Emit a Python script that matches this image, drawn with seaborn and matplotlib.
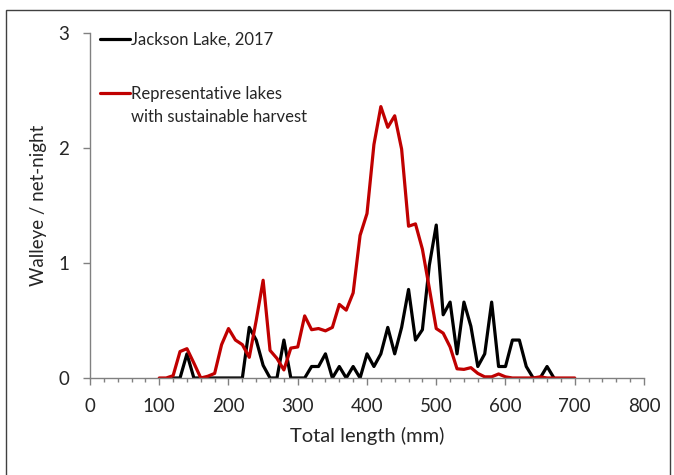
import numpy as np
import pandas as pd
import matplotlib
matplotlib.use("Agg")
import matplotlib.pyplot as plt
import seaborn as sns
from matplotlib.lines import Line2D
from matplotlib.patches import Rectangle
from matplotlib.ticker import MultipleLocator

# Length bins (mm) and catch rates (walleye / net-night)
rep_length = [100, 110, 120, 130, 140, 150, 160, 170, 180, 190,
              200, 210, 220, 230, 240, 250, 260, 270, 280, 290,
              300, 310, 320, 330, 340, 350, 360, 370, 380, 390,
              400, 410, 420, 430, 440, 450, 460, 470, 480, 490,
              500, 510, 520, 530, 540, 550, 560, 570, 580, 590,
              600, 610, 620, 630, 640, 650, 660, 670, 680, 690, 700]
rep_cpue = [0, 0, 0.02, 0.23, 0.255, 0.13, 0.0, 0.015, 0.04, 0.29,
            0.43, 0.33, 0.29, 0.18, 0.50, 0.85, 0.24, 0.17, 0.07, 0.26,
            0.27, 0.54, 0.42, 0.43, 0.41, 0.44, 0.64, 0.59, 0.74, 1.24,
            1.43, 2.03, 2.36, 2.18, 2.28, 1.99, 1.32, 1.34, 1.12, 0.78,
            0.43, 0.39, 0.27, 0.08, 0.075, 0.09, 0.04, 0.01, 0.01, 0.035,
            0.01, 0, 0, 0, 0, 0.01, 0, 0, 0, 0, 0]

jackson_length = [120, 130, 140, 150, 160, 170, 180, 190,
                  200, 210, 220, 230, 240, 250, 260, 270, 280, 290,
                  300, 310, 320, 330, 340, 350, 360, 370, 380, 390,
                  400, 410, 420, 430, 440, 450, 460, 470, 480, 490,
                  500, 510, 520, 530, 540, 550, 560, 570, 580, 590,
                  600, 610, 620, 630, 640, 650, 660, 670]
jackson_cpue = [0, 0, 0.21, 0, 0, 0, 0, 0,
                0, 0, 0, 0.44, 0.33, 0.11, 0, 0, 0.33, 0,
                0, 0, 0.1, 0.1, 0.21, 0, 0.1, 0, 0.1, 0,
                0.21, 0.1, 0.21, 0.44, 0.21, 0.44, 0.77, 0.33, 0.42, 0.98,
                1.33, 0.55, 0.66, 0.21, 0.66, 0.45, 0.1, 0.21, 0.66, 0.1,
                0.1, 0.33, 0.33, 0.1, 0, 0, 0.1, 0]

jackson = pd.DataFrame({"length": jackson_length, "cpue": jackson_cpue})
rep = pd.DataFrame({"length": rep_length, "cpue": rep_cpue})

sns.set_style("ticks")
plt.rcParams["font.family"] = ["Lato", "DejaVu Sans"]
text_col = "#262626"
axis_col = "#808080"

fig = plt.figure(figsize=(6.74, 4.75), dpi=100)
ax = fig.add_axes([90 / 674, 97 / 475, 554 / 674, 345 / 475])

sns.lineplot(data=jackson, x="length", y="cpue", color="black", lw=2.3, ax=ax)
sns.lineplot(data=rep, x="length", y="cpue", color="#C00000", lw=2.3, ax=ax)

ax.set_xlim(0, 800)
ax.set_ylim(0, 3)
ax.xaxis.set_major_locator(MultipleLocator(100))
ax.xaxis.set_minor_locator(MultipleLocator(20))
ax.yaxis.set_major_locator(MultipleLocator(1))
ax.tick_params(axis="x", which="major", length=5, width=1, color=axis_col,
               labelsize=13.5, labelcolor=text_col, pad=9.5)
ax.tick_params(axis="x", which="minor", length=3, width=1, color=axis_col)
ax.tick_params(axis="y", which="major", length=5, width=1, color=axis_col,
               labelsize=13.5, labelcolor=text_col, pad=10)
sns.despine(ax=ax)
for s in ("left", "bottom"):
    ax.spines[s].set_color(axis_col)
    ax.spines[s].set_linewidth(1)

ax.set_xlabel("Total length (mm)", fontsize=14.5, color=text_col, labelpad=8.5)
ax.set_ylabel("Walleye / net-night", fontsize=13.5, color=text_col, labelpad=8)

# legend, Excel style: handle level with first line of each label
leg1 = fig.legend(handles=[Line2D([], [], color="black", lw=2.3)],
                  labels=["Jackson Lake, 2017"], loc="center left",
                  bbox_to_anchor=(100 / 674, 1 - 40 / 475), frameon=False,
                  fontsize=12, handlelength=1.8, handletextpad=0.05,
                  borderpad=0, borderaxespad=0, labelcolor=text_col)
leg2 = fig.legend(handles=[Line2D([], [], color="#C00000", lw=2.3),
                           Line2D([], [], color="none")],
                  labels=["Representative lakes", "with sustainable harvest"],
                  loc="center left", bbox_to_anchor=(100 / 674, 1 - 105 / 475),
                  frameon=False, fontsize=12, handlelength=1.8,
                  handletextpad=0.05, borderpad=0, borderaxespad=0,
                  labelspacing=0.42, labelcolor=text_col)

# chart area border
fig.add_artist(Rectangle((6 / 674, -0.1), 664 / 674, 0.1 + 465 / 475,
                         transform=fig.transFigure, fill=False,
                         edgecolor="#404040", lw=1))

fig.savefig("out.png", dpi=100)
